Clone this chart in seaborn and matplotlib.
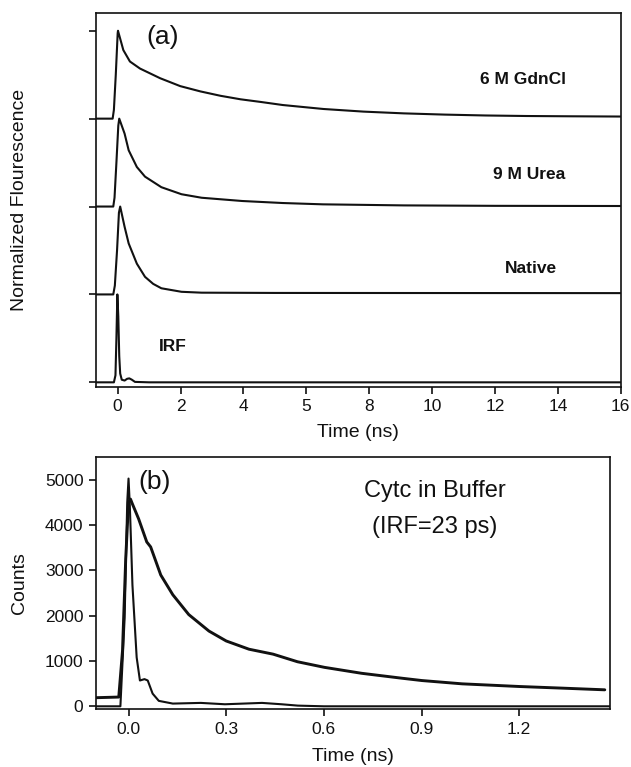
import numpy as np
import pandas as pd
import seaborn as sns
import matplotlib
matplotlib.use('Agg')
import matplotlib.pyplot as plt

#panel (a) traces (normalized amplitude, time in ns)
gdn_t = [-0.69, -0.16, -0.12, -0.06, 0.0, 0.01, 0.18, 0.39, 0.71, 1.35, 1.99, 2.63, 3.27, 3.91, 4.55,
         5.25, 6.54, 7.82, 9.1, 10.4, 11.7, 13.0, 14.3, 16.0]
gdn_v = [0.0, 0.0, 0.1, 0.5, 0.97, 1.0, 0.78, 0.65, 0.57, 0.46, 0.37, 0.31, 0.26, 0.22, 0.19,
         0.155, 0.11, 0.08, 0.06, 0.046, 0.036, 0.03, 0.027, 0.024]

urea_t = [-0.69, -0.14, -0.1, -0.04, 0.02, 0.05, 0.22, 0.35, 0.61, 0.87, 1.39, 2.03, 2.67, 3.96,
          5.25, 6.53, 9.1, 12.0, 16.0]
urea_v = [0.0, 0.0, 0.1, 0.5, 0.92, 1.0, 0.83, 0.64, 0.45, 0.34, 0.22, 0.14, 0.10, 0.063,
          0.04, 0.025, 0.013, 0.008, 0.006]

nat_t = [-0.69, -0.14, -0.09, -0.02, 0.04, 0.08, 0.22, 0.35, 0.61, 0.87, 1.13, 1.39, 2.03, 2.67,
         5.0, 10.0, 16.0]
nat_v = [0.0, 0.0, 0.1, 0.5, 0.93, 1.0, 0.77, 0.58, 0.35, 0.2, 0.12, 0.07, 0.03, 0.02,
         0.017, 0.016, 0.015]

irf_t = [-0.69, -0.12, -0.07, -0.04, -0.01, 0.02, 0.05, 0.08, 0.13, 0.22, 0.3, 0.37, 0.45, 0.55, 1.0, 16.0]
irf_v = [0.0, 0.0, 0.08, 0.5, 1.0, 0.75, 0.3, 0.1, 0.03, 0.02, 0.04, 0.045, 0.03, 0.005, 0.0, 0.0]

traces = ['IRF', 'Native', '9 M Urea', '6 M GdnCl']

#panel (b): Cytc in buffer and its IRF (counts)
cyt_t = [-0.099, -0.03, -0.0185, -0.0086, 0.0, 0.006, 0.012, 0.031, 0.056, 0.068, 0.099, 0.136,
         0.185, 0.247, 0.3, 0.37, 0.444, 0.519, 0.602, 0.716, 0.84, 0.901, 1.025, 1.201, 1.333, 1.463]
cyt_c = [190, 204, 1225, 3265, 4505, 4577, 4468, 4140, 3630, 3520, 2900, 2464,
         2026, 1662, 1443, 1261, 1152, 984, 860, 729, 620, 569, 496, 437, 401, 364]

irfb_t = [-0.1, -0.025, -0.012, -0.004, 0.0, 0.004, 0.012, 0.025, 0.035, 0.049, 0.059, 0.074,
          0.093, 0.136, 0.222, 0.296, 0.41, 0.47, 0.52, 0.6, 1.48]
irfb_c = [0, 0, 1950, 4500, 5030, 4430, 2680, 1080, 570, 600, 570, 280,
          120, 60, 75, 45, 75, 45, 15, 0, 0]

xticks_a = [0, 2, 4, 6, 8, 10, 12, 14, 16]
xlabels_a = ['0', '2', '4', '5', '8', '10', '12', '14', '16']
xticks_b = [0.0, 0.3, 0.6, 0.9, 1.2]
yticks_b = [0, 1000, 2000, 3000, 4000, 5000]

sns.set_style('ticks')
plt.rcParams['font.family'] = ['Liberation Sans', 'DejaVu Sans']
plt.rcParams['axes.linewidth'] = 1.2
plt.rcParams['xtick.major.width'] = 1.2
plt.rcParams['ytick.major.width'] = 1.2
for key in ['text.color', 'axes.labelcolor', 'xtick.color', 'ytick.color', 'axes.edgecolor']:
    plt.rcParams[key] = '#111111'

fig = plt.figure(figsize=(6.31, 7.67), dpi=100)
ax1 = fig.add_axes([0.1521, 0.4958, 0.8316, 0.4876])
ax2 = fig.add_axes([0.1521, 0.0756, 0.8146, 0.3282])

#stack the traces one unit apart
df_a = pd.concat([
    pd.DataFrame({'t': irf_t, 'v': np.array(irf_v) + 0, 'trace': 'IRF'}),
    pd.DataFrame({'t': nat_t, 'v': np.array(nat_v) + 1, 'trace': 'Native'}),
    pd.DataFrame({'t': urea_t, 'v': np.array(urea_v) + 2, 'trace': '9 M Urea'}),
    pd.DataFrame({'t': gdn_t, 'v': np.array(gdn_v) + 3, 'trace': '6 M GdnCl'}),
])
for name in traces:
    sub = df_a[df_a.trace == name]
    sns.lineplot(data=sub, x='t', y='v', ax=ax1, color='#111111', lw=1.5, estimator=None, sort=False)

ax1.set_xlim(-0.69, 16)
ax1.set_ylim(-0.05, 4.205)
ax1.set_xticks(xticks_a)
ax1.set_xticklabels(xlabels_a)
ax1.set_yticks([0, 1, 2, 3, 4])
ax1.set_yticklabels([])
ax1.tick_params(axis='both', direction='out', length=5, labelsize=12.5, pad=4)
ax1.set_xlabel('Time (ns)', fontsize=14)
ax1.set_ylabel('Normalized Flourescence', fontsize=14)
ax1.xaxis.set_label_coords(0.5, -0.1)
ax1.yaxis.set_label_coords(-0.13, 0.5)

ax1.text(1.42, 3.93, '(a)', fontsize=19, ha='center', va='center')
ax1.text(12.9, 3.44, '6 M GdnCl', fontsize=12.5, fontweight='bold', ha='center', va='center')
ax1.text(13.1, 2.37, '9 M Urea', fontsize=12.5, fontweight='bold', ha='center', va='center')
ax1.text(13.13, 1.29, 'Native', fontsize=12.5, fontweight='bold', ha='center', va='center')
ax1.text(1.74, 0.41, 'IRF', fontsize=12.5, fontweight='bold', ha='center', va='center')

#panel (b)
sns.lineplot(x=cyt_t, y=cyt_c, ax=ax2, color='#111111', lw=2.1, estimator=None, sort=False)
sns.lineplot(x=irfb_t, y=irfb_c, ax=ax2, color='#111111', lw=1.5, estimator=None, sort=False)
ax2.set_xlim(-0.1, 1.479)
ax2.set_ylim(-60, 5500)
ax2.set_xticks(xticks_b)
ax2.set_xticklabels(['0.0', '0.3', '0.6', '0.9', '1.2'])
ax2.set_yticks(yticks_b)
ax2.tick_params(axis='both', direction='out', length=5, labelsize=12.5, pad=4)
ax2.set_xlabel('Time (ns)', fontsize=14)
ax2.set_ylabel('Counts', fontsize=14)
ax2.xaxis.set_label_coords(0.5, -0.155)
ax2.yaxis.set_label_coords(-0.132, 0.5)

ax2.text(0.08, 4960, '(b)', fontsize=19, ha='center', va='center')
ax2.text(0.94, 4750, 'Cytc in Buffer', fontsize=17, ha='center', va='center')
ax2.text(0.94, 3955, '(IRF=23 ps)', fontsize=17, ha='center', va='center')

plt.savefig('out.png', dpi=100)
